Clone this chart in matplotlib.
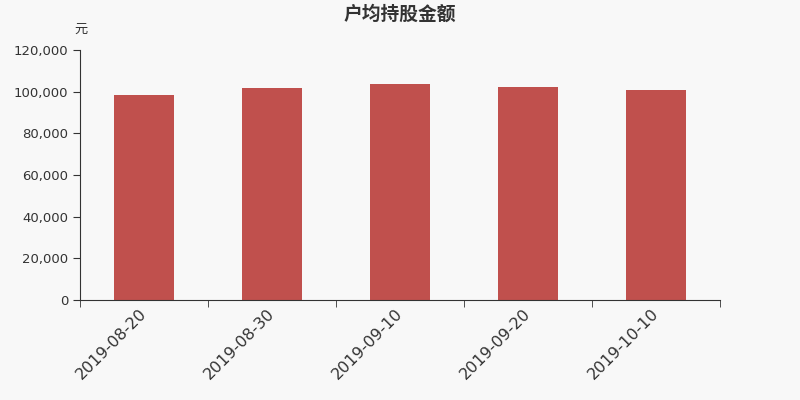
import matplotlib.pyplot as plt
import numpy as np

plt.rcParams['font.family'] = ['DejaVu Sans', 'Noto Sans CJK SC']

dates = ["2019-08-20", "2019-08-30", "2019-09-10", "2019-09-20", "2019-10-10"]
values = [98400, 101700, 103600, 102200, 100700]

fig = plt.figure(figsize=(8, 4), dpi=100, facecolor="#f8f8f8")
ax = fig.add_axes([0.1, 0.25, 0.8, 0.625])
ax.set_facecolor("#f8f8f8")

x = np.arange(len(dates))
ax.bar(x, values, width=0.47, color="#c0504d")

ax.set_xlim(-0.5, len(dates) - 0.5)
ax.set_ylim(0, 120000)
ax.set_yticks(np.arange(0, 120001, 20000))
ax.set_yticklabels([f"{v:,}" for v in range(0, 120001, 20000)])

# category labels at centers, tick marks at boundaries
ax.set_xticks(x)
ax.set_xticklabels(dates, rotation=45, ha="right", va="center",
                   rotation_mode="anchor", fontsize=11.5, color="#333333")
ax.set_xticks(np.arange(-0.5, len(dates)), minor=True)
ax.tick_params(axis="x", which="major", length=0, pad=8)
ax.tick_params(axis="x", which="minor", length=5, color="#333333")
ax.tick_params(axis="y", length=5, color="#333333", labelcolor="#333333",
               labelsize=9.5)

for s in ["top", "right"]:
    ax.spines[s].set_visible(False)
for s in ["left", "bottom"]:
    ax.spines[s].set_color("#333333")

fig.text(0.5, 0.965, "户均持股金额", ha="center", va="center",
         fontsize=13.5, fontweight="bold", color="#333333",
         family=['Noto Sans CJK SC', 'DejaVu Sans'])
fig.text(0.093, 0.928, "元", ha="left", va="center", fontsize=9.5, color="#333333",
         family=['Noto Sans CJK SC', 'DejaVu Sans'])

fig.savefig("out.png", dpi=100, facecolor=fig.get_facecolor())
